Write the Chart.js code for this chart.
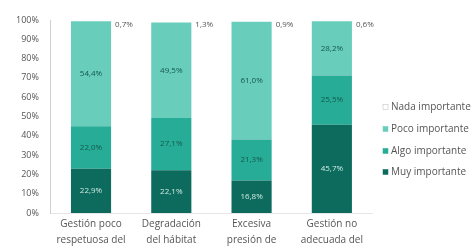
<!DOCTYPE html>
<html><head><meta charset="utf-8">
<script src="https://cdn.jsdelivr.net/npm/chart.js@4"></script>
<style>html,body{margin:0;padding:0;background:#fff;}#wrap{width:475px;height:251px;position:relative;}</style>
</head><body><div id="wrap"><canvas id="c" width="475" height="251"></canvas></div>
<script>
const categories = [["Gestión poco","respetuosa del"],["Degradación","del hábitat"],["Excesiva","presión de"],["Gestión no","adecuada del"]];
const muyImportante = [22.9, 22.1, 16.8, 45.7];
const algoImportante = [22.0, 27.1, 21.3, 25.5];
const pocoImportante = [54.4, 49.5, 61.0, 28.2];
const nadaImportante = [0.7, 1.3, 0.9, 0.6];
const yTicks = [0,10,20,30,40,50,60,70,80,90,100];
const seriesNames = ["Muy importante","Algo importante","Poco importante","Nada importante"];

const colors = ["#0d6b5e","#27ad97","#68cdbb","#ffffff"];
const labelColors = ["#cfeae4","#15584e","#15584e","#555555"];
const fmt = v => v.toFixed(1).replace('.', ',') + '%';
const FONT = "'Open Sans', 'DejaVu Sans', sans-serif";

const labelPlugin = {
  id: 'segLabels',
  afterDatasetsDraw(chart) {
    const ctx = chart.ctx;
    ctx.save();
    ctx.font = "8px " + FONT;
    chart.data.datasets.forEach((ds, di) => {
      const meta = chart.getDatasetMeta(di);
      meta.data.forEach((bar, i) => {
        const v = ds.data[i];
        ctx.fillStyle = labelColors[di];
        if (di === 3) {
          ctx.textAlign = 'left'; ctx.textBaseline = 'middle';
          ctx.fillText(fmt(v), bar.x + bar.width/2 + 4, bar.y + 5);
        } else {
          ctx.textAlign = 'center'; ctx.textBaseline = 'middle';
          ctx.fillText(fmt(v), bar.x, (bar.y + bar.base)/2);
        }
      });
    });
    ctx.restore();
  }
};

const legendPlugin = {
  id: 'customLegend',
  afterDraw(chart) {
    const ctx = chart.ctx;
    ctx.save();
    ctx.font = "10px " + FONT;
    ctx.textBaseline = 'middle';
    ctx.textAlign = 'left';
    const x0 = chart.chartArea.right + 11;
    const ys = [107, 129, 151, 172];
    for (let k = 0; k < 4; k++) {
      const di = 3 - k;
      const y = ys[k];
      ctx.fillStyle = colors[di];
      ctx.fillRect(x0, y - 2.5, 5, 5);
      ctx.strokeStyle = di === 3 ? '#bbbbbb' : colors[di];
      ctx.lineWidth = 0.5;
      ctx.strokeRect(x0, y - 2.5, 5, 5);
      ctx.fillStyle = '#555555';
      ctx.fillText(seriesNames[di], x0 + 8, y);
    }
    ctx.restore();
  }
};

new Chart(document.getElementById('c'), {
  type: 'bar',
  data: {
    labels: categories,
    datasets: [
      {label: seriesNames[0], data: muyImportante, backgroundColor: colors[0]},
      {label: seriesNames[1], data: algoImportante, backgroundColor: colors[1]},
      {label: seriesNames[2], data: pocoImportante, backgroundColor: colors[2]},
      {label: seriesNames[3], data: nadaImportante, backgroundColor: colors[3]}
    ]
  },
  options: {
    responsive: false,
    animation: false,
    devicePixelRatio: 1,
    layout: {padding: {top: 20, right: 103, left: 4, bottom: 0}},
    datasets: {bar: {categoryPercentage: 1.0, barPercentage: 0.5}},
    plugins: {legend: {display: false}, tooltip: {enabled: false}},
    scales: {
      x: {
        stacked: true,
        grid: {display: false, drawTicks: false},
        border: {display: true, color: '#e6e6e6'},
        ticks: {color: '#555555', font: {size: 10, family: FONT, lineHeight: 1.6}, padding: 3, maxRotation: 0, autoSkip: false}
      },
      y: {
        stacked: true,
        min: 0, max: 100,
        afterBuildTicks(axis) { axis.ticks = yTicks.map(v => ({value: v})); },
        grid: {display: false, drawTicks: false},
        border: {display: true, color: '#d0d0d0'},
        ticks: {color: '#555555', font: {size: 9, family: FONT}, padding: 12, callback: v => v + '%'}
      }
    }
  },
  plugins: [labelPlugin, legendPlugin]
});
</script></body></html>
